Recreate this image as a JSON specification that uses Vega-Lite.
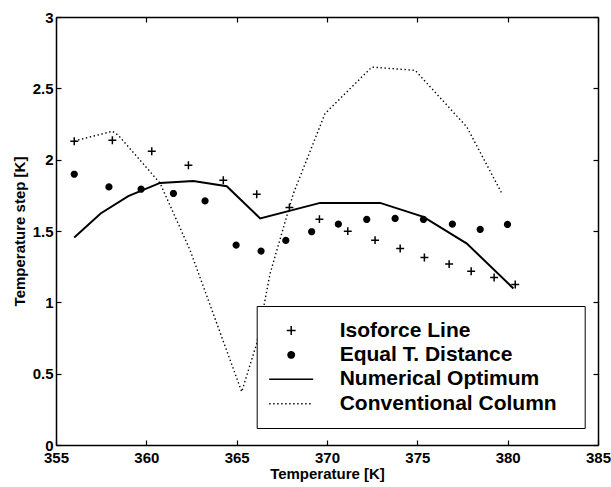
{
  "$schema": "https://vega.github.io/schema/vega-lite/v6.json",
  "width": 542,
  "height": 428,
  "autosize": "none",
  "padding": {"left": 56, "top": 17, "right": 13, "bottom": 42},
  "config": {
    "view": {"stroke": null},
    "font": "Liberation Sans",
    "axis": {
      "domainColor": "black", "domainWidth": 1.5, "tickColor": "black", "tickWidth": 1.2,
      "tickSize": -5, "grid": false, "labelFlush": false, "labelOverlap": false,
      "labelFont": "Liberation Sans", "labelFontWeight": "bold",
      "labelFontSize": 15, "labelColor": "black", "titleFont": "Liberation Sans",
      "titleFontWeight": "bold", "titleFontSize": 15, "titleColor": "black"
    },
    "legend": {
      "orient": "none", "legendX": 200.7, "legendY": 289, "titleOrient": "right", "titlePadding": 14, "titleFontSize": 15,
      "padding": 14, "symbolSize": 40, "symbolOffset": 10, "labelOffset": 38, "labelLimit": 0,
      "labelFont": "Liberation Sans", "labelFontWeight": "bold", "labelFontSize": 21, "labelColor": "black",
      "rowPadding": 2.4, "strokeColor": "black", "fillColor": "white", "symbolStrokeWidth": 1.5
    }
  },
  "data": {"values": [
    {"series": "Isoforce Line", "T": 356.01, "v": 2.129},
    {"series": "Isoforce Line", "T": 358.12, "v": 2.136},
    {"series": "Isoforce Line", "T": 360.30, "v": 2.059},
    {"series": "Isoforce Line", "T": 362.33, "v": 1.961},
    {"series": "Isoforce Line", "T": 364.26, "v": 1.856},
    {"series": "Isoforce Line", "T": 366.11, "v": 1.758},
    {"series": "Isoforce Line", "T": 367.92, "v": 1.665},
    {"series": "Isoforce Line", "T": 369.58, "v": 1.583},
    {"series": "Isoforce Line", "T": 371.15, "v": 1.499},
    {"series": "Isoforce Line", "T": 372.66, "v": 1.436},
    {"series": "Isoforce Line", "T": 374.05, "v": 1.377},
    {"series": "Isoforce Line", "T": 375.39, "v": 1.314},
    {"series": "Isoforce Line", "T": 376.76, "v": 1.268},
    {"series": "Isoforce Line", "T": 377.98, "v": 1.218},
    {"series": "Isoforce Line", "T": 379.25, "v": 1.174},
    {"series": "Isoforce Line", "T": 380.42, "v": 1.125},
    {"series": "Equal T. Distance", "T": 356.01, "v": 1.898},
    {"series": "Equal T. Distance", "T": 357.93, "v": 1.809},
    {"series": "Equal T. Distance", "T": 359.71, "v": 1.793},
    {"series": "Equal T. Distance", "T": 361.50, "v": 1.763},
    {"series": "Equal T. Distance", "T": 363.25, "v": 1.711},
    {"series": "Equal T. Distance", "T": 364.97, "v": 1.401},
    {"series": "Equal T. Distance", "T": 366.35, "v": 1.359},
    {"series": "Equal T. Distance", "T": 367.72, "v": 1.434},
    {"series": "Equal T. Distance", "T": 369.15, "v": 1.495},
    {"series": "Equal T. Distance", "T": 370.63, "v": 1.548},
    {"series": "Equal T. Distance", "T": 372.20, "v": 1.581},
    {"series": "Equal T. Distance", "T": 373.77, "v": 1.588},
    {"series": "Equal T. Distance", "T": 375.34, "v": 1.581},
    {"series": "Equal T. Distance", "T": 376.94, "v": 1.548},
    {"series": "Equal T. Distance", "T": 378.48, "v": 1.511},
    {"series": "Equal T. Distance", "T": 379.99, "v": 1.546},
    {"series": "Numerical Optimum", "T": 356.01, "v": 1.454},
    {"series": "Numerical Optimum", "T": 357.47, "v": 1.623},
    {"series": "Numerical Optimum", "T": 359.00, "v": 1.744},
    {"series": "Numerical Optimum", "T": 360.76, "v": 1.837},
    {"series": "Numerical Optimum", "T": 362.60, "v": 1.851},
    {"series": "Numerical Optimum", "T": 364.45, "v": 1.814},
    {"series": "Numerical Optimum", "T": 366.30, "v": 1.588},
    {"series": "Numerical Optimum", "T": 369.62, "v": 1.697},
    {"series": "Numerical Optimum", "T": 372.94, "v": 1.697},
    {"series": "Numerical Optimum", "T": 375.34, "v": 1.599},
    {"series": "Numerical Optimum", "T": 377.74, "v": 1.412},
    {"series": "Numerical Optimum", "T": 380.32, "v": 1.097},
    {"series": "Conventional Column", "T": 356.01, "v": 2.131},
    {"series": "Conventional Column", "T": 358.12, "v": 2.199},
    {"series": "Conventional Column", "T": 358.45, "v": 2.171},
    {"series": "Conventional Column", "T": 360.76, "v": 1.835},
    {"series": "Conventional Column", "T": 362.42, "v": 1.366},
    {"series": "Conventional Column", "T": 365.28, "v": 0.373},
    {"series": "Conventional Column", "T": 366.11, "v": 0.712},
    {"series": "Conventional Column", "T": 366.85, "v": 1.202},
    {"series": "Conventional Column", "T": 368.14, "v": 1.763},
    {"series": "Conventional Column", "T": 369.89, "v": 2.323},
    {"series": "Conventional Column", "T": 372.48, "v": 2.649},
    {"series": "Conventional Column", "T": 374.88, "v": 2.626},
    {"series": "Conventional Column", "T": 377.74, "v": 2.229},
    {"series": "Conventional Column", "T": 379.68, "v": 1.763}
  ]},
  "layer": [
    {
      "transform": [{"filter": "datum.series === 'Numerical Optimum'"}],
      "mark": {"type": "line", "color": "black", "strokeWidth": 2},
      "encoding": {
        "x": {"field": "T", "type": "quantitative", "scale": {"domain": [355, 385], "nice": false},
              "axis": {"orient": "bottom", "values": [355, 360, 365, 370, 375, 380, 385], "title": "Temperature [K]", "labelPadding": 10, "titlePadding": 1}},
        "y": {"field": "v", "type": "quantitative", "scale": {"domain": [0, 3], "nice": false},
              "axis": {"orient": "left", "values": [0, 0.5, 1, 1.5, 2, 2.5, 3], "format": "~g", "title": "Temperature step [K]", "labelPadding": 8, "titlePadding": 5}},
        "order": {"field": "T"}
      }
    },
    {
      "transform": [{"filter": "datum.series === 'Conventional Column'"}],
      "mark": {"type": "line", "color": "black", "strokeWidth": 1.4, "strokeDash": [1.4, 2.6]},
      "encoding": {
        "x": {"field": "T", "type": "quantitative", "axis": {"orient": "top", "values": [355, 360, 365, 370, 375, 380, 385], "labels": false, "title": null}},
        "y": {"field": "v", "type": "quantitative", "axis": {"orient": "right", "values": [0, 0.5, 1, 1.5, 2, 2.5, 3], "labels": false, "title": null}},
        "order": {"field": "T"}
      }
    },
    {
      "transform": [{"filter": "datum.series === 'Isoforce Line' || datum.series === 'Equal T. Distance'"}],
      "mark": {"type": "point", "filled": true, "color": "black", "stroke": "black", "strokeWidth": 1.5, "size": 32, "opacity": 1},
      "encoding": {
        "x": {"field": "T", "type": "quantitative", "axis": null},
        "y": {"field": "v", "type": "quantitative", "axis": null},
        "shape": {
          "field": "series", "type": "nominal",
          "scale": {"domain": ["Isoforce Line", "Equal T. Distance", "Numerical Optimum", "Conventional Column"],
                    "range": ["M-1.4,0H1.4M0,-1.4V1.4", "circle", "M-6.96,0H6.96", "M-6.96,0H6.96"]},
          "legend": {"title": " "}
        },
        "strokeDash": {
          "field": "series", "type": "nominal",
          "scale": {"domain": ["Isoforce Line", "Equal T. Distance", "Numerical Optimum", "Conventional Column"],
                    "range": [[1, 0], [1, 0], [1, 0], [1.4, 2.6]]},
          "legend": {"title": " "}
        }
      }
    }
  ],
  "resolve": {"axis": {"x": "independent", "y": "independent"}}
}
